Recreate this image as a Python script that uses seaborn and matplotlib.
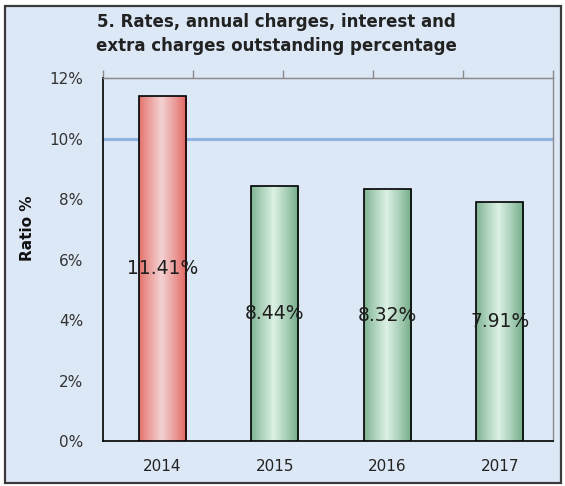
import numpy as np
import pandas as pd
import seaborn as sns
import matplotlib.pyplot as plt
from matplotlib.patches import Rectangle

anos = ["2014", "2015", "2016", "2017"]
taxas = [11.41, 8.44, 8.32, 7.91]
rotulos = ["11.41%", "8.44%", "8.32%", "7.91%"]
cores_borda = {"2014": "#e2625c", "2015": "#6fa985", "2016": "#6fa985", "2017": "#6fa985"}
cores_centro = {"2014": "#f3d2d2", "2015": "#dcf1e4", "2016": "#dcf1e4", "2017": "#dcf1e4"}
meta = 10

dados = pd.DataFrame({"ano": anos, "taxa": taxas})

sns.set_style("white")
plt.rcParams["font.family"] = ["DejaVu Sans"]

fundo = "#dde8f6"
fig = plt.figure(figsize=(5.65, 4.86), dpi=100)
fig.patch.set_facecolor("white")
fig.patches.append(
    Rectangle((5 / 565, 3 / 486), 556 / 565, 477 / 486, transform=fig.transFigure,
              facecolor=fundo, edgecolor="#3a3a3a", linewidth=1.6, zorder=-5)
)

ax = fig.add_axes([103 / 565, 45 / 486, 450 / 565, 363 / 486])
ax.set_facecolor("none")

sns.barplot(
    data=dados, x="ano", y="taxa", hue="ano", palette=cores_borda,
    width=0.42, edgecolor="black", linewidth=1.2, legend=False, ax=ax, zorder=3,
)

# gradiente horizontal dentro de cada barra
t = np.linspace(0, 1, 80)
perfil = np.clip(1 - np.abs(t - 0.47) / 0.53, 0, 1) ** 0.9
for barra, ano in zip(ax.patches, anos):
    x0, y0 = barra.get_x(), barra.get_y()
    w, h = barra.get_width(), barra.get_height()
    c1 = np.array(plt.matplotlib.colors.to_rgb(cores_borda[ano]))
    c2 = np.array(plt.matplotlib.colors.to_rgb(cores_centro[ano]))
    img = c1[None, None, :] + (c2 - c1)[None, None, :] * perfil[None, :, None]
    im = ax.imshow(img, extent=(x0, x0 + w, y0, y0 + h), aspect="auto", zorder=3.5)
    im.set_clip_path(barra)
    barra.set_facecolor("none")
    barra.set_zorder(4)

ax.axhline(meta, color="#8fb4e3", linewidth=2.2, zorder=2)

for i, (v, r) in enumerate(zip(taxas, rotulos)):
    ax.text(i, v / 2, r, ha="center", va="center", fontsize=13.5,
            color="#1e1e1e", zorder=5)

# as barras ficam um pouco deslocadas para a direita em cada categoria
desvio = 0.027
ax.set_xlim(-0.5 - desvio, 3.5 - desvio)
ax.set_ylim(0, 12)
ax.set_yticks(np.arange(0, 13, 2))
ax.set_yticklabels([f"{v}%" for v in range(0, 13, 2)])
ax.set_xticks(range(4))
ax.set_xticks([k - 0.5 - desvio for k in range(5)], minor=True)
ax.tick_params(axis="x", which="major", length=0, pad=13, labelsize=11, labelcolor="#222")
ax.tick_params(axis="x", which="minor", length=6, width=1.2, direction="out", color="black")
ax.tick_params(axis="y", length=6, width=1.2, direction="out", color="black",
               labelsize=11, labelcolor="#333", pad=8)
ax.set_xlabel("")
ax.set_ylabel("")

for lado in ["left", "bottom"]:
    ax.spines[lado].set_color("black")
    ax.spines[lado].set_linewidth(1.2)
for lado in ["top", "right"]:
    ax.spines[lado].set_color("#8a8a8a")
    ax.spines[lado].set_linewidth(1)

topo = ax.secondary_xaxis("top")
topo.set_xticks([-0.5 - desvio + 0.8 * k for k in range(6)])
topo.set_xticklabels([])
topo.tick_params(length=6, width=1, color="#8a8a8a", direction="out")
topo.spines["top"].set_color("#8a8a8a")

fig.text(0.49, 1 - 34 / 486,
         "5. Rates, annual charges, interest and\nextra charges outstanding percentage",
         ha="center", va="center", fontsize=12, fontweight="bold", color="#222",
         linespacing=1.4)
fig.text(28 / 565, 1 - 228 / 486, "Ratio %", rotation=90, ha="center", va="center",
         fontsize=11, fontweight="bold", color="#111")

fig.savefig("out.png", dpi=100, facecolor=fig.get_facecolor())
